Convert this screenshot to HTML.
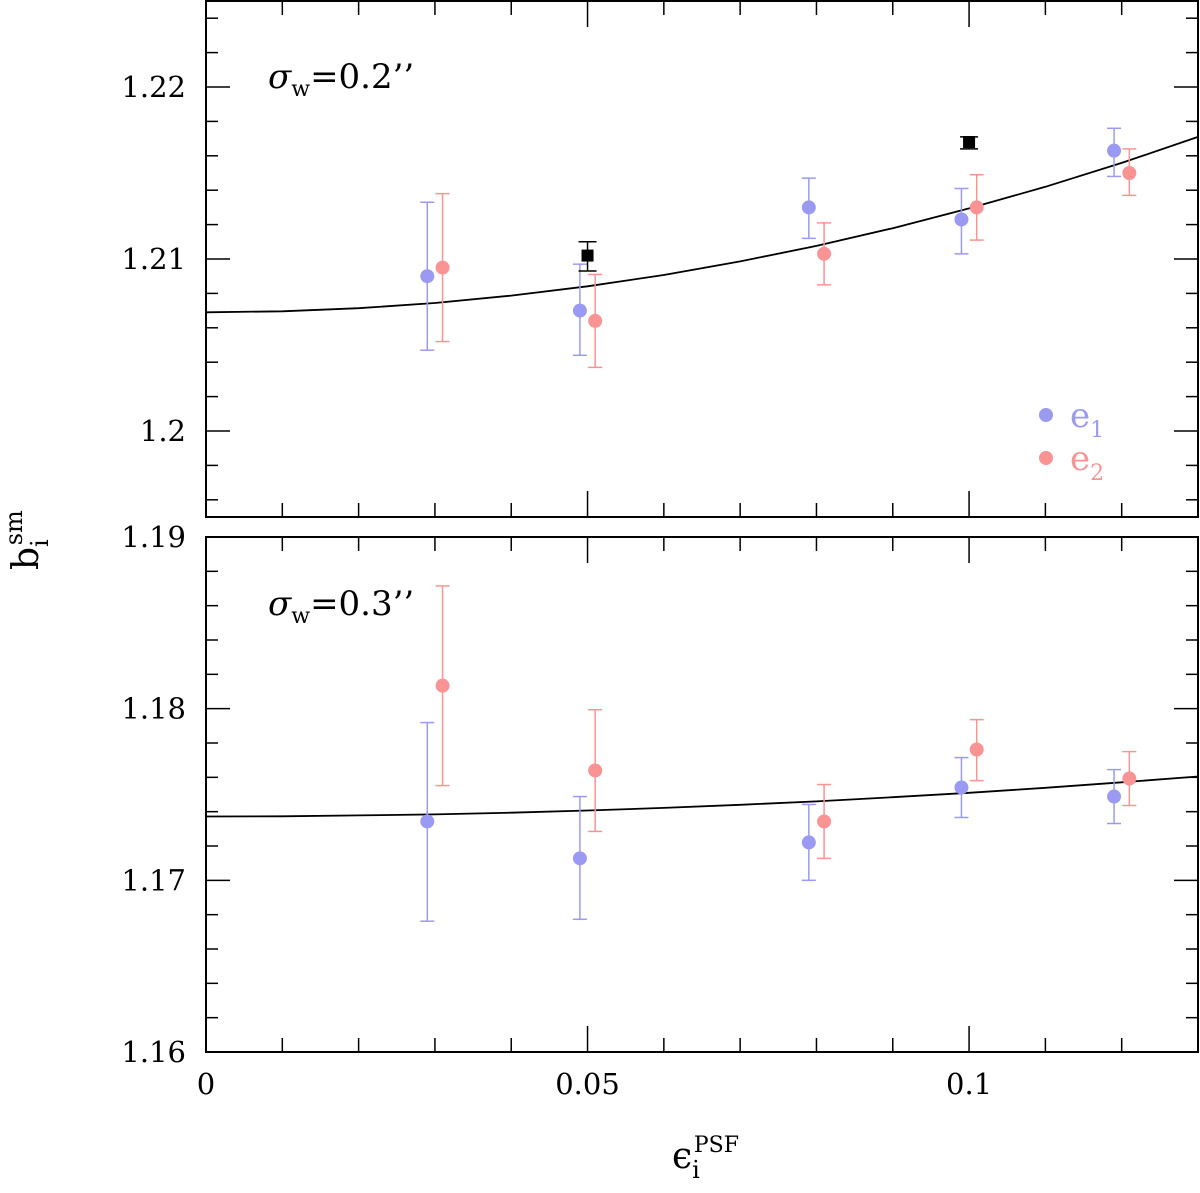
<!DOCTYPE html>
<html><head><meta charset="utf-8"><style>
html,body{margin:0;padding:0;background:#fff}
svg text{font-family:"DejaVu Serif","Liberation Serif",serif}
</style></head><body>
<svg id="chart" width="1200" height="1188" xmlns="http://www.w3.org/2000/svg"></svg>
<script>
const curveX=[0,0.01,0.02,0.03,0.04,0.05,0.06,0.07,0.08,0.09,0.10,0.11,0.12,0.13];
const topCurve=[1.2069,1.20696,1.20714,1.20744,1.20787,1.20841,1.20907,1.20986,1.21076,1.21179,1.21294,1.21420,1.21559,1.21710];
const botCurve=[1.17372,1.17373,1.17378,1.17384,1.17394,1.17407,1.17422,1.17440,1.17460,1.17484,1.17510,1.17539,1.17571,1.17605];
const e1X=[0.029,0.049,0.079,0.099,0.119];
const e2X=[0.031,0.051,0.081,0.101,0.121];
const topE1=[1.2090,1.2070,1.2130,1.2123,1.2163];
const topE1Hi=[1.2133,1.2097,1.2147,1.2141,1.2176];
const topE1Lo=[1.2047,1.2044,1.2112,1.2103,1.2148];
const topE2=[1.2095,1.2064,1.2103,1.2130,1.2150];
const topE2Hi=[1.2138,1.2091,1.2121,1.2149,1.2164];
const topE2Lo=[1.2052,1.2037,1.2085,1.2111,1.2137];
const sqX=[0.05,0.1];
const sqY=[1.2102,1.2168];
const sqHi=[1.2110,1.2171];
const sqLo=[1.2093,1.2164];
const botE1=[1.17343,1.17128,1.17221,1.17541,1.17488];
const botE1Hi=[1.17919,1.17488,1.17442,1.17715,1.17645];
const botE1Lo=[1.16762,1.16773,1.17000,1.17366,1.17331];
const botE2=[1.18134,1.17640,1.17343,1.17762,1.17593];
const botE2Hi=[1.18715,1.17994,1.17558,1.17936,1.17750];
const botE2Lo=[1.17552,1.17285,1.17128,1.17581,1.17436];
const xTickLabels=["0","0.05","0.1"];
const xTickVals=[0,0.05,0.1];
const topYTicks=[1.2,1.21,1.22];
const topYLabels=["1.2","1.21","1.22"];
const botYTicks=[1.16,1.17,1.18,1.19];
const botYLabels=["1.16","1.17","1.18","1.19"];

const NS="http://www.w3.org/2000/svg";
const svg=document.getElementById('chart');
function mk(tag,attrs,parent){const e=document.createElementNS(NS,tag);for(const k in attrs)e.setAttribute(k,attrs[k]);(parent||svg).appendChild(e);return e;}
const L=206,R=1198;
const xs=v=>L+(v-0)/0.13*(R-L);
const panels=[{top:1,bottom:517,min:1.195,max:1.225,t0:1.194,name:'top'},{top:537,bottom:1052,min:1.16,max:1.19,t0:1.16,name:'bottom'}];
panels.forEach(p=>{p.ys=v=>p.bottom-(v-p.min)/(p.max-p.min)*(p.bottom-p.top);});
const BLUE='#9a9af2',RED='#fa9494';

panels.forEach(p=>{
  const g=mk('g',{});
  
  
  const fr=mk('rect',{x:L,y:p.top,width:R-L,height:p.bottom-p.top,fill:'none',stroke:'#000','stroke-width':2},g);
  
  
  for(let i=0;i<=13;i++){const v=i*0.01;const x=xs(v);const len=(i%5===0)?26:14;
    mk('line',{x1:x,y1:p.bottom,x2:x,y2:p.bottom-len,stroke:'#000','stroke-width':1.5},g);
    mk('line',{x1:x,y1:p.top,x2:x,y2:p.top+len,stroke:'#000','stroke-width':1.5},g);}
  for(let k=0;k<=17;k++){const v=p.t0+k*0.002;const y=p.ys(v);const major=Math.abs(Math.round(v*100)-v*100)<1e-6;const len=major?24:12;
    if(y<p.top+2||y>p.bottom-2)continue;
    mk('line',{x1:L,y1:y,x2:L+len,y2:y,stroke:'#000','stroke-width':1.5},g);
    mk('line',{x1:R,y1:y,x2:R-len,y2:y,stroke:'#000','stroke-width':1.5},g);}
});
function ylabels(p,vals,labs){vals.forEach((v,i)=>{const t=mk('text',{x:186,y:p.ys(v)+10,'text-anchor':'end','font-size':29});t.textContent=labs[i];
  
  });}
ylabels(panels[0],topYTicks,topYLabels);
ylabels(panels[1],botYTicks,botYLabels);
xTickVals.forEach((v,i)=>{const t=mk('text',{x:xs(v),y:1094,'text-anchor':'middle','font-size':29});t.textContent=xTickLabels[i];
  
  });

function curve(p,vals){let d='';curveX.forEach((x,i)=>{d+=(i?'L':'M')+xs(x).toFixed(1)+','+p.ys(vals[i]).toFixed(1);});
  const c=mk('path',{d:d,fill:'none',stroke:'#000','stroke-width':1.8});
  
  }
curve(panels[0],topCurve);curve(panels[1],botCurve);

function series(p,X,Y,Hi,Lo,col,name){X.forEach((x,i)=>{const g=mk('g',{});
  
  
  const cx=xs(x);
  mk('line',{x1:cx,y1:p.ys(Hi[i]),x2:cx,y2:p.ys(Lo[i]),stroke:col,'stroke-width':1.5},g);
  mk('line',{x1:cx-7,y1:p.ys(Hi[i]),x2:cx+7,y2:p.ys(Hi[i]),stroke:col,'stroke-width':1.5},g);
  mk('line',{x1:cx-7,y1:p.ys(Lo[i]),x2:cx+7,y2:p.ys(Lo[i]),stroke:col,'stroke-width':1.5},g);
  mk('circle',{cx:cx,cy:p.ys(Y[i]),r:7,fill:col},g);});}
series(panels[0],e1X,topE1,topE1Hi,topE1Lo,BLUE,'top-e1');
series(panels[0],e2X,topE2,topE2Hi,topE2Lo,RED,'top-e2');
series(panels[1],e1X,botE1,botE1Hi,botE1Lo,BLUE,'bottom-e1');
series(panels[1],e2X,botE2,botE2Hi,botE2Lo,RED,'bottom-e2');
sqX.forEach((x,i)=>{const p=panels[0];const g=mk('g',{});
  
  
  const cx=xs(x);
  mk('line',{x1:cx,y1:p.ys(sqHi[i]),x2:cx,y2:p.ys(sqLo[i]),stroke:'#000','stroke-width':1.5},g);
  mk('line',{x1:cx-9,y1:p.ys(sqHi[i]),x2:cx+9,y2:p.ys(sqHi[i]),stroke:'#000','stroke-width':1.5},g);
  mk('line',{x1:cx-9,y1:p.ys(sqLo[i]),x2:cx+9,y2:p.ys(sqLo[i]),stroke:'#000','stroke-width':1.5},g);
  mk('rect',{x:cx-6,y:p.ys(sqY[i])-6,width:12,height:12,fill:'#000'},g);});
</script>
<svg style="position:absolute;left:0;top:0" width="1200" height="1188" xmlns="http://www.w3.org/2000/svg">
<g>
<circle cx="1046" cy="415" r="7" fill="#9a9af2"/>
<text x="1070" y="427" font-size="34" fill="#9a9af2" font-family="DejaVu Serif,serif">e<tspan font-size="22" dy="10">1</tspan></text>
<circle cx="1046" cy="458" r="7" fill="#fa9494"/>
<text x="1070" y="470" font-size="34" fill="#fa9494" font-family="DejaVu Serif,serif">e<tspan font-size="22" dy="10">2</tspan></text>
</g>
<text x="268" y="88" font-size="34" font-family="DejaVu Serif,serif" font-style="italic">σ<tspan font-size="22" dy="8" font-style="normal">w</tspan><tspan dy="-8" font-style="normal">=0.2’’</tspan></text>
<text x="268" y="615" font-size="34" font-family="DejaVu Serif,serif" font-style="italic">σ<tspan font-size="22" dy="8" font-style="normal">w</tspan><tspan dy="-8" font-style="normal">=0.3’’</tspan></text>
<text transform="translate(38,570) rotate(-90)" font-size="36" font-family="DejaVu Serif,serif">b<tspan font-size="24" dy="10">i</tspan><tspan font-size="24" dx="-6" dy="-26">sm</tspan></text>
<text x="672" y="1168" font-size="36" font-family="DejaVu Serif,serif">ϵ<tspan font-size="24" dy="10">i</tspan><tspan font-size="22" dx="-6" dy="-26">PSF</tspan></text>
</svg>
</body></html>
